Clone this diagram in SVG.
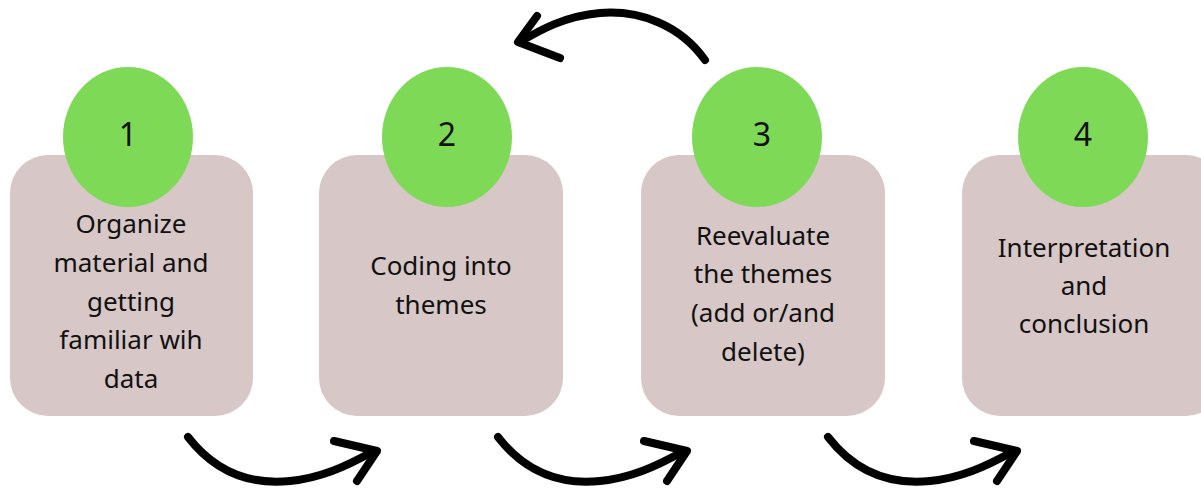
<svg xmlns="http://www.w3.org/2000/svg" width="1201" height="492" viewBox="0 0 1201 492">
<style>
.box{fill:#d7c7c7}
.circ{fill:#7ed957}
.lbl{font-family:"Noto Sans","Open Sans","Liberation Sans",sans-serif;font-size:26px;fill:#111;text-anchor:middle}
.num{font-family:"Noto Sans","Open Sans","Liberation Sans",sans-serif;font-size:32px;fill:#111;text-anchor:middle}
.arr{fill:none;stroke:#000;stroke-width:8;stroke-linecap:round;stroke-linejoin:round}
</style>
<rect width="1201" height="492" fill="#fff"/>
<g id="connectors">
<g id="a12"><path class="arr" d="M188,437 C215,472 250,485 290,481 C320,478 345,467 372,452"/><path class="arr" d="M334,441 L377,451 L357,481"/></g>
<g id="a23" transform="translate(310,0)"><path class="arr" d="M188,437 C215,472 250,485 290,481 C320,478 345,467 372,452"/><path class="arr" d="M334,441 L377,451 L357,481"/></g>
<g id="a34" transform="translate(640,0)"><path class="arr" d="M188,437 C215,472 250,485 290,481 C320,478 345,467 372,452"/><path class="arr" d="M334,441 L377,451 L357,481"/></g>
<g id="a32"><path class="arr" d="M705,60 C680,25 640,10 600,13 C565,16 540,30 520,42"/><path class="arr" d="M537,16 L518,42 L560,58"/></g>
</g>
<g id="node1">
<rect class="box" x="10" y="155" width="243" height="261" rx="38"/>
<ellipse class="circ" cx="128" cy="137" rx="65" ry="70"/>
<text class="num" x="128" y="146">1</text>
<text class="lbl" x="131" y="233">Organize</text>
<text class="lbl" x="131" y="272">material and</text>
<text class="lbl" x="131" y="311">getting</text>
<text class="lbl" x="131" y="349">familiar wih</text>
<text class="lbl" x="131" y="388">data</text>
</g>
<g id="node2">
<rect class="box" x="319" y="155" width="244" height="261" rx="38"/>
<ellipse class="circ" cx="447" cy="137" rx="65" ry="70"/>
<text class="num" x="447" y="146">2</text>
<text class="lbl" x="441" y="275">Coding into</text>
<text class="lbl" x="441" y="314">themes</text>
</g>
<g id="node3">
<rect class="box" x="641" y="155" width="244" height="261" rx="38"/>
<ellipse class="circ" cx="757" cy="137" rx="65" ry="70"/>
<text class="num" x="762" y="146">3</text>
<text class="lbl" x="763" y="245">Reevaluate</text>
<text class="lbl" x="763" y="283">the themes</text>
<text class="lbl" x="763" y="322">(add or/and</text>
<text class="lbl" x="763" y="361">delete)</text>
</g>
<g id="node4">
<rect class="box" x="962" y="155" width="262" height="261" rx="38"/>
<ellipse class="circ" cx="1083" cy="137" rx="65" ry="70"/>
<text class="num" x="1083" y="146">4</text>
<text class="lbl" x="1084" y="257">Interpretation</text>
<text class="lbl" x="1084" y="295">and</text>
<text class="lbl" x="1084" y="333">conclusion</text>
</g>
</svg>
